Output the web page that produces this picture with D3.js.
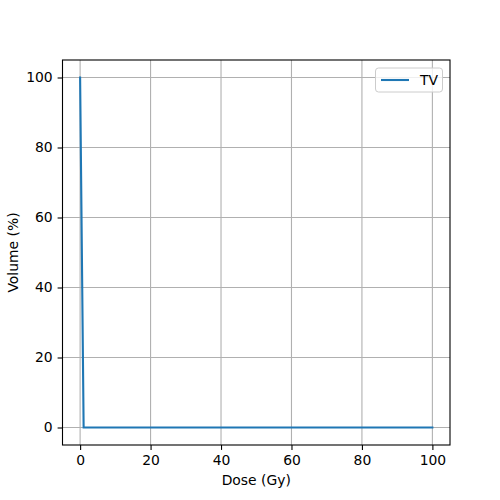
<!DOCTYPE html>
<html>
<head>
<meta charset="utf-8">
<script src="https://cdn.jsdelivr.net/npm/d3@7"></script>
<style>
  body { margin: 0; background: #fff; }
  text { font-family: "DejaVu Sans", sans-serif; }
</style>
</head>
<body>
<svg id="chart" width="500" height="500"></svg>
<script>
// DVH curve for the target volume
var seriesName = "TV";
var dose = [0, 1, 100];        // Gy
var volume = [100, 0, 0];      // %
var xTicks = [0, 20, 40, 60, 80, 100];
var yTicks = [0, 20, 40, 60, 80, 100];

var svg = d3.select("#chart");
// note: "top" is reserved on window, so keep margins in an object
var m = {left: 62.5, right: 450, top: 60, bottom: 445};
var fs = 13.9; // 10pt at 100dpi

var x = d3.scaleLinear().domain([-5, 105]).range([m.left, m.right]);
var y = d3.scaleLinear().domain([-5, 105]).range([m.bottom, m.top]);

svg.append("rect").attr("width", 500).attr("height", 500).attr("fill", "#fff");

// grid
svg.append("g").selectAll("line").data(xTicks).join("line")
  .attr("x1", d => x(d)).attr("x2", d => x(d))
  .attr("y1", m.top).attr("y2", m.bottom)
  .attr("stroke", "#b0b0b0").attr("stroke-width", 1.1);
svg.append("g").selectAll("line").data(yTicks).join("line")
  .attr("y1", d => y(d)).attr("y2", d => y(d))
  .attr("x1", m.left).attr("x2", m.right)
  .attr("stroke", "#b0b0b0").attr("stroke-width", 1.1);

// axes
var xAxis = svg.append("g").attr("transform", "translate(0," + m.bottom + ")")
  .call(d3.axisBottom(x).tickValues(xTicks).tickSize(4.9).tickPadding(4.9).tickFormat(d3.format("d")));
var yAxis = svg.append("g").attr("transform", "translate(" + m.left + ",0)")
  .call(d3.axisLeft(y).tickValues(yTicks).tickSize(4.9).tickPadding(4.9).tickFormat(d3.format("d")));
[xAxis, yAxis].forEach(function(a){
  a.select(".domain").remove();
  a.selectAll("text").attr("font-size", fs).attr("fill", "#000")
    .style("font-family", "DejaVu Sans, sans-serif");
  a.selectAll("line").attr("stroke", "#000").attr("stroke-width", 1.1);
});

// data line
var pts = dose.map(function(d, i){ return [d, volume[i]]; });
svg.append("path").datum(pts)
  .attr("fill", "none").attr("stroke", "#1f77b4").attr("stroke-width", 2.1)
  .attr("stroke-linecap", "square")
  .attr("d", d3.line().x(d => x(d[0])).y(d => y(d[1])));

// frame
svg.append("rect").attr("x", m.left).attr("y", m.top)
  .attr("width", m.right - m.left).attr("height", m.bottom - m.top)
  .attr("fill", "none").attr("stroke", "#000").attr("stroke-width", 1.1);

// labels
svg.append("text").attr("x", (m.left + m.right) / 2).attr("y", 485)
  .attr("text-anchor", "middle").attr("font-size", fs).text("Dose (Gy)");
svg.append("text").attr("transform", "translate(18," + (m.top + m.bottom) / 2 + ") rotate(-90)")
  .attr("text-anchor", "middle").attr("font-size", fs).text("Volume (%)");

// legend
var lg = svg.append("g").attr("transform", "translate(375.5,68)");
lg.append("rect").attr("width", 67).attr("height", 24).attr("rx", 3)
  .attr("fill", "#fff").attr("fill-opacity", 0.8)
  .attr("stroke", "#cccccc").attr("stroke-width", 1);
lg.append("line").attr("x1", 5.5).attr("x2", 33.5).attr("y1", 12).attr("y2", 12)
  .attr("stroke", "#1f77b4").attr("stroke-width", 2.1);
lg.append("text").attr("x", 44.5).attr("y", 17).attr("font-size", fs).text(seriesName);
</script>
</body>
</html>
